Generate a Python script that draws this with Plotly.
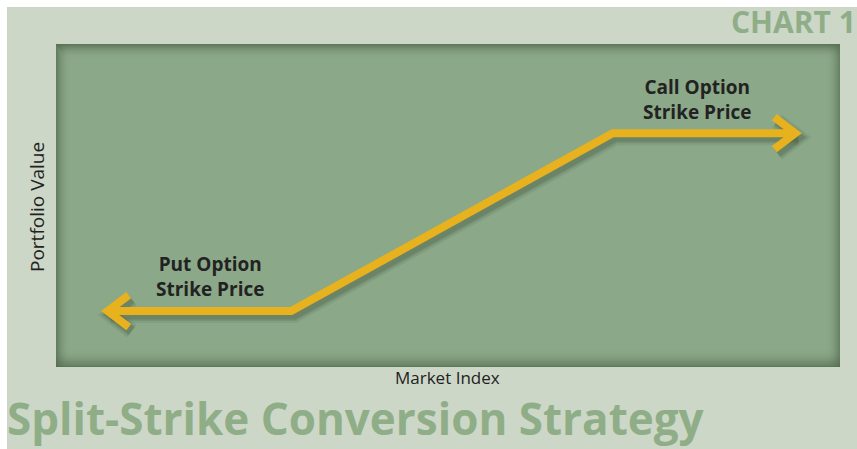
import plotly.graph_objects as go

# ---- data ----
market_index = [6.6, 30, 71, 94.3]
portfolio_value = [17.3, 17.3, 72.4, 72.4]
label_text = ["Put Option<br>Strike Price", "Call Option<br>Strike Price"]
label_x = [19.6, 81.8]
label_y = [28.0, 82.7]
x_title = "Market Index"
y_title = "Portfolio Value"
chart_tag = "CHART 1"
main_title = "Split-Strike Conversion Strategy"

W, H = 857, 449
L, R, T, B = 56, 17, 44, 82
PW, PH = W - L - R, H - T - B
XR = [0, 100]
YR = [0, 100]

BG = "#CDD7C7"
PLOT = "#8BA888"
DARK = "rgba(84,106,80,{a})"
GOLD = "#E8B11E"
GREEN_TXT = "#8FAE88"

def px_x(p):
    return (p - L) / PW

def px_y(p):
    return (H - B - p) / PH

ux = (XR[1] - XR[0]) / PW  # data units per pixel
uy = (YR[1] - YR[0]) / PH

fig = go.Figure()

sx, sy = 3 * ux, -4 * uy
def chevron(tipx, tipy, direction):
    ax, ay = 21 * ux, 16 * uy
    return ([tipx - direction * ax, tipx, tipx - direction * ax],
            [tipy + ay, tipy, tipy - ay])

cl = chevron(market_index[0], portfolio_value[0], -1)
cr = chevron(market_index[-1], portfolio_value[-1], 1)

for w, a in [(16, 0.10), (12, 0.15), (9, 0.2)]:
    col = f"rgba(60,80,55,{a})"
    fig.add_trace(go.Scatter(x=[v + sx for v in market_index], y=[v + sy for v in portfolio_value],
                             mode="lines", line=dict(color=col, width=w), hoverinfo="skip", showlegend=False))
    for cx, cy in (cl, cr):
        fig.add_trace(go.Scatter(x=[v + sx for v in cx], y=[v + sy for v in cy], mode="lines",
                                 line=dict(color=col, width=w), hoverinfo="skip", showlegend=False))

fig.add_trace(go.Scatter(x=market_index, y=portfolio_value, mode="lines",
                         line=dict(color=GOLD, width=8), showlegend=False))
for cx, cy in (cl, cr):
    fig.add_trace(go.Scatter(x=cx, y=cy, mode="lines",
                             line=dict(color=GOLD, width=8), showlegend=False))

shapes = []
shapes.append(dict(type="rect", xref="paper", yref="paper", x0=px_x(-5), x1=px_x(W + 5),
                   y0=px_y(7), y1=px_y(-5), fillcolor="white", line_width=0, layer="below"))
shapes.append(dict(type="rect", xref="paper", yref="paper", x0=px_x(-5), x1=px_x(7),
                   y0=px_y(H + 5), y1=px_y(-5), fillcolor="white", line_width=0, layer="below"))

N = 14
for i in range(N):
    a = 0.8 * (1 - i / N) ** 2
    shapes.append(dict(type="rect", xref="paper", yref="paper", x0=px_x(L + i * 0.7), x1=px_x(W - R),
                       y0=px_y(T + i + 1), y1=px_y(T + i), fillcolor=DARK.format(a=a), line_width=0, layer="below"))
    shapes.append(dict(type="rect", xref="paper", yref="paper", x0=px_x(L), x1=px_x(W - R),
                       y0=px_y(H - B - i * 1.2), y1=px_y(H - B - (i + 1) * 1.2),
                       fillcolor=DARK.format(a=a), line_width=0, layer="below"))
    shapes.append(dict(type="rect", xref="paper", yref="paper", x0=px_x(L + i), x1=px_x(L + i + 1),
                       y0=px_y(H - B), y1=px_y(T), fillcolor=DARK.format(a=a * 0.9), line_width=0, layer="below"))
    shapes.append(dict(type="rect", xref="paper", yref="paper", x0=px_x(W - R - i - 1), x1=px_x(W - R - i),
                       y0=px_y(H - B), y1=px_y(T), fillcolor=DARK.format(a=a * 0.8), line_width=0, layer="below"))

annotations = []
for t, x, y in zip(label_text, label_x, label_y):
    annotations.append(dict(x=x, y=y, xref="x", yref="y", text=f"<b>{t}</b>", showarrow=False,
                            font=dict(family="Open Sans", size=19, color="#222222"),
                            align="center"))
annotations.append(dict(xref="paper", yref="paper", x=px_x(W + 1), y=px_y(21), text=f"<b>{chart_tag}</b>",
                        showarrow=False, xanchor="right", yanchor="middle",
                        font=dict(family="Open Sans", size=30, color=GREEN_TXT)))
annotations.append(dict(xref="paper", yref="paper", x=px_x(6), y=px_y(H), text=f"<b>{main_title}</b>",
                        showarrow=False, xanchor="left", yanchor="bottom", borderpad=0,
                        font=dict(family="Open Sans", size=44, color=GREEN_TXT)))
annotations.append(dict(xref="paper", yref="paper", x=px_x(447), y=px_y(377), text=x_title,
                        showarrow=False, xanchor="center", yanchor="middle", borderpad=0,
                        font=dict(family="Open Sans", size=17, color="#222222")))
annotations.append(dict(xref="paper", yref="paper", x=px_x(37), y=px_y(207), text=y_title,
                        showarrow=False, xanchor="center", yanchor="middle", textangle=-90,
                        font=dict(family="Open Sans", size=19, color="#222222")))

fig.update_layout(
    width=W, height=H,
    margin=dict(l=L, r=R, t=T, b=B),
    paper_bgcolor=BG, plot_bgcolor=PLOT,
    xaxis=dict(range=XR, visible=False, fixedrange=True),
    yaxis=dict(range=YR, visible=False, fixedrange=True),
    shapes=shapes, annotations=annotations,
)
fig.write_html("out.html", config={"displayModeBar": False},
               post_script="document.body.style.margin='0';document.body.style.overflow='hidden';")
